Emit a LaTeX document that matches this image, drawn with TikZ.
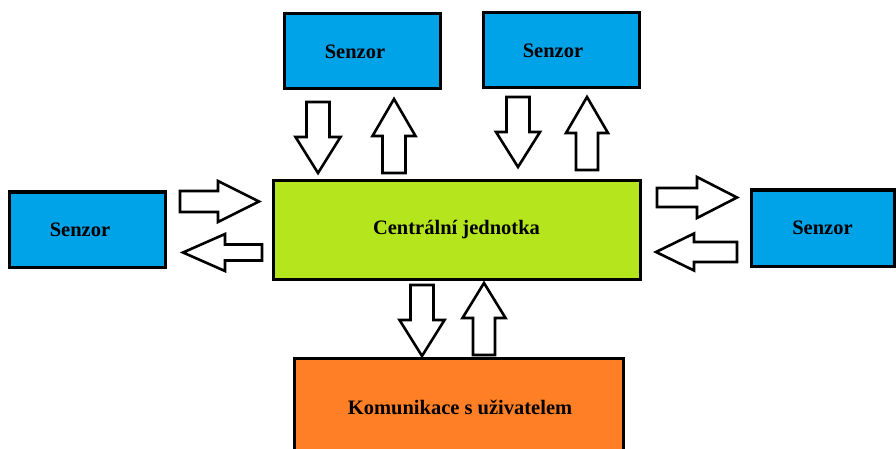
\documentclass[tikz,border=0pt]{standalone}
\usepackage{fontspec}
\setmainfont{Liberation Serif}
\definecolor{senblue}{HTML}{00A2E8}
\definecolor{cenlime}{HTML}{B5E61D}
\definecolor{komorange}{HTML}{FF7F27}
\tikzset{
  txt/.style={font=\fontsize{20.5}{24}\selectfont\bfseries},
  box/.style={draw=black, line width=3pt, inner sep=0pt, txt},
  sensorbox/.style={box, fill=senblue},
  barrow/.style={draw=black, fill=white, line width=2.6pt, line join=miter},
}
% #1,#2 tail centre; #3 angle; #4 length; #5 shaft half width; #6 head half width; #7 head length
\newcommand\BlockArrow[7]{%
  \draw[barrow, shift={(#1,#2)}, rotate=#3]
    (0,-#5) -- (#4-#7,-#5) -- (#4-#7,-#6) -- (#4,0) -- (#4-#7,#6) -- (#4-#7,#5) -- (0,#5) -- cycle;}
\begin{document}
\begin{tikzpicture}[x=1pt,y=-1pt]
\useasboundingbox (0,0) rectangle (896,449);
\fill[white] (0,0) rectangle (896,449);
% boxes
\node[sensorbox, minimum width=156pt, minimum height=75pt, label={[xshift=-7pt, txt]center:Senzor}] (s1) at (362,51.5) {};
\node[sensorbox, minimum width=156pt, minimum height=75pt, label={[xshift=-8pt, txt]center:Senzor}] (s2) at (561,50.5) {};
\node[sensorbox, minimum width=156pt, minimum height=75pt, label={[xshift=-7pt, txt]center:Senzor}] (s3) at (87,229.5) {};
\node[sensorbox, minimum width=143pt, minimum height=76pt, label={[txt]center:Senzor}] (s4) at (822.5,228) {};
\node[box, fill=cenlime, minimum width=367pt, minimum height=98pt] (cen) at (456.5,230) {Centrální jednotka};
\node[box, fill=komorange, minimum width=329pt, minimum height=110pt] (kom) at (458.5,413) {};
\node[txt] (komt) at (460,407) {Komunikace s uživatelem};
% arrows top
\BlockArrow{318}{102}{-90}{71}{11.5}{22.5}{36}
\BlockArrow{394}{173}{90}{74}{11.5}{21.5}{37}
\BlockArrow{518}{97}{-90}{70}{11.5}{22}{35}
\BlockArrow{587}{170}{90}{73}{11}{21}{36}
% arrows left
\BlockArrow{180}{201.5}{0}{79}{10.5}{20.5}{41}
\BlockArrow{262}{252.5}{180}{79}{8}{18.5}{42}
% arrows right
\BlockArrow{657}{197.5}{0}{80}{9.5}{20.5}{40}
\BlockArrow{737}{252}{180}{81}{10}{18.5}{38}
% arrows bottom
\BlockArrow{422}{285}{-90}{71}{11.5}{22.5}{36}
\BlockArrow{484}{355}{90}{72}{11}{21.5}{35}
\end{tikzpicture}
\end{document}
